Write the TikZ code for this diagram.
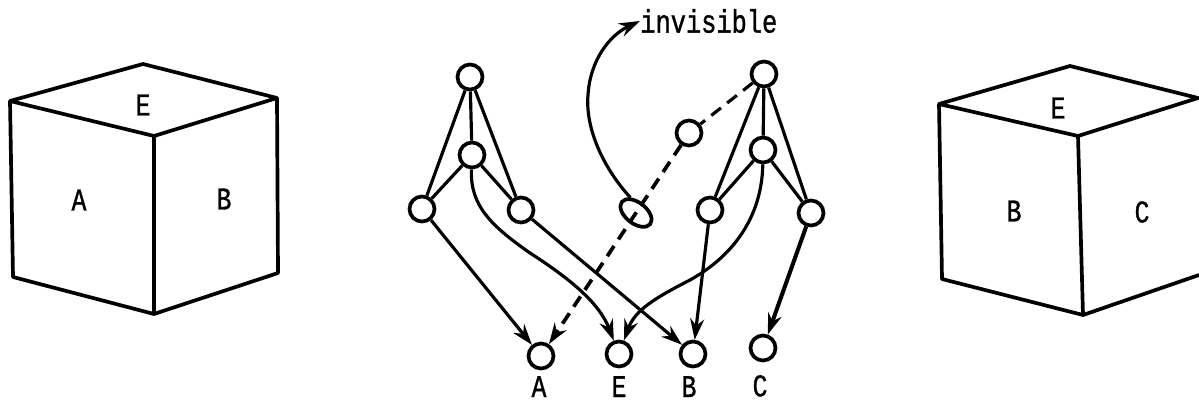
\documentclass[tikz,border=0pt]{standalone}
\usepackage{fontspec}
\newfontfamily\cubefont[FakeStretch=0.78, FakeBold=1]{Liberation Mono}
\usetikzlibrary{shapes, positioning, arrows.meta}

\tikzset{
  vertex/.style={draw, circle, line width=2.1pt, minimum size=0.5cm, inner sep=0pt},
  edge/.style={line width=1.8pt},
  arc/.style={edge, -{Stealth[length=0.42cm, width=0.28cm]}},
  cubeline/.style={line width=2.1pt, line join=round},
  letter/.style={font=\cubefont\fontsize{18}{18}\selectfont, inner sep=0pt},
}

\begin{document}
\begin{tikzpicture}[x=0.02cm, y=-0.02cm]
  \newcommand\labelspacing{0.11cm}
  \useasboundingbox (0, 0) rectangle (1199, 402);

  % left cube
  \draw[cubeline] (10, 101) -- (143, 64) -- (277, 98) -- (154, 136) -- cycle;
  \draw[cubeline] (10, 101) -- (13, 277) -- (154, 314) -- (278, 273) -- (277, 98);
  \draw[cubeline] (154, 136) -- (154, 314);
  \foreach \name/\x/\y in {E/143/105, A/79/200, B/224/199}{
    \node[letter] at (\x, \y) (cl\name) {\name};
  }

  % right cube
  \draw[cubeline] (939, 104) -- (1070, 66) -- (1198, 98) -- (1078, 136) -- cycle;
  \draw[cubeline] (939, 104) -- (942, 279) -- (1083, 315) -- (1199, 275);
  \draw[cubeline] (1078, 136) -- (1083, 315);
  \foreach \name/\x/\y in {E/1058/108, B/1014/211, C/1142/212}{
    \node[letter] at (\x, \y) (cr\name) {\name};
  }

  % vertices
  \foreach \name/\x/\y in {lt/470/77, lm/472/155, ll/422/209, lr/521/210, rt/764/74, rm/763/150, rl/710/210, rr/811/213, dsh/689/133, fa/541/356, fe/619/354, fb/693/354, fc/763/348}{
    \node[vertex] at (\x, \y) (\name) {};
  }
  \node[draw, ellipse, line width=2.1pt, minimum width=0.72cm, minimum height=0.42cm, inner sep=0pt, rotate=-38] at (636, 213) (hide) {};

  \node[letter, below=\labelspacing of fa, xshift=-0.04cm] (la) {A};
  \node[letter, below=\labelspacing of fe, yshift=-0.04cm] (le) {E};
  \node[letter, below=\labelspacing of fb, xshift=-0.08cm, yshift=-0.04cm] (lb) {B};
  \node[letter, below=\labelspacing of fc, xshift=-0.06cm, yshift=-0.14cm] (lc) {C};
  \node[font=\cubefont\fontsize{18.5}{18.5}\selectfont, anchor=west, inner sep=0pt] at (640, 21) (inv) {invisible};

  % upper parts
  \foreach \from/\to in {lt/lm, lt/ll, lt/lr, lm/ll, lm/lr, rt/rm, rt/rl, rt/rr, rm/rl, rm/rr}{
    \draw[edge] (\from) -- (\to);
  }

  % lower parts
  \draw[arc] (ll) -- (fa);
  \draw[arc] (lr) -- (fb);
  \draw[arc] (rl) -- (fb);
  \draw[arc, line width=2.3pt] (rr) -- (fc);
  \draw[arc] (lm) .. controls (470, 205) and (490, 225) .. (530, 253) .. controls (575, 282) and (600, 305) .. (fe);
  \draw[arc] (rm) .. controls (762, 215) and (735, 255) .. (690, 280) .. controls (655, 298) and (635, 310) .. (fe);

  % the hidden one
  \draw[edge, dash pattern=on 7pt off 4.5pt] (rt) -- (dsh);
  \draw[arc, line width=2.1pt, dash pattern=on 7pt off 4.5pt] (dsh) -- (fa);
  \draw[arc] (hide.north west) .. controls (605, 170) and (585, 130) .. (588, 95) .. controls (590, 60) and (610, 35) .. (inv.west);
\end{tikzpicture}
\end{document}
